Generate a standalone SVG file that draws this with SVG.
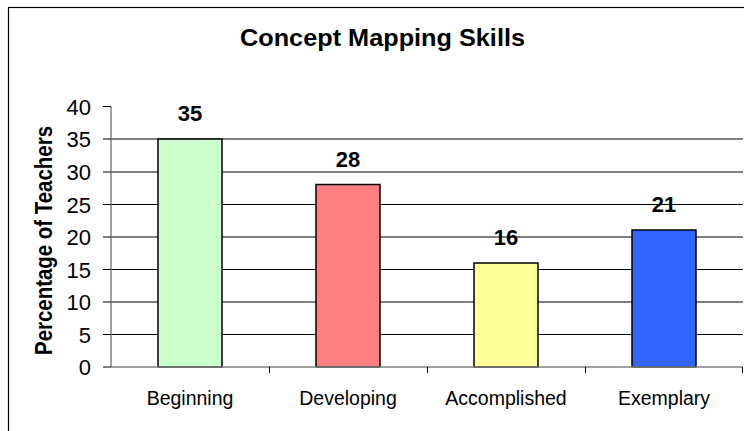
<svg xmlns="http://www.w3.org/2000/svg" width="744" height="431" viewBox="0 0 744 431">
<style>
.grid{stroke:#000;stroke-width:1}
.axis{stroke:#808080;stroke-width:1.5;fill:none}
.tick{stroke:#000;stroke-width:1}
.bar{stroke:#000;stroke-width:1.5}
.num{font-family:"Liberation Sans",Arial,sans-serif;font-size:22px;fill:#000;text-anchor:end}
.cat{font-family:"Liberation Sans",Arial,sans-serif;font-size:19.5px;fill:#000;text-anchor:middle}
.val{font-family:"Liberation Sans",Arial,sans-serif;font-size:22px;font-weight:bold;fill:#000;text-anchor:middle}
.title{font-family:"Liberation Sans",Arial,sans-serif;font-size:24px;font-weight:bold;fill:#000}
</style>
<rect x="0" y="0" width="744" height="431" fill="#fff"/>
<rect x="8.5" y="7.5" width="750" height="440" fill="none" stroke="#000" stroke-width="1.2"/>
<text id="title" class="title" x="240" y="45.5" textLength="285" lengthAdjust="spacingAndGlyphs">Concept Mapping Skills</text>
<text id="ytitle" class="title" transform="translate(52,355) rotate(-90)" x="0" y="0" font-size="21" textLength="229" lengthAdjust="spacingAndGlyphs">Percentage of Teachers</text>
<g id="gridlines">
<line class="grid" x1="111" y1="334.5" x2="743" y2="334.5"/>
<line class="grid" x1="111" y1="302" x2="743" y2="302"/>
<line class="grid" x1="111" y1="269.5" x2="743" y2="269.5"/>
<line class="grid" x1="111" y1="237" x2="743" y2="237"/>
<line class="grid" x1="111" y1="204.5" x2="743" y2="204.5"/>
<line class="grid" x1="111" y1="172" x2="743" y2="172"/>
<line class="grid" x1="111" y1="139" x2="743" y2="139"/>
</g>
<g id="yaxis">
<line class="axis" x1="111" y1="106.5" x2="111" y2="367"/>
<g class="tick">
<line x1="103" y1="106.5" x2="111" y2="106.5"/>
<line x1="103" y1="139" x2="111" y2="139"/>
<line x1="103" y1="172" x2="111" y2="172"/>
<line x1="103" y1="204.5" x2="111" y2="204.5"/>
<line x1="103" y1="237" x2="111" y2="237"/>
<line x1="103" y1="269.5" x2="111" y2="269.5"/>
<line x1="103" y1="302" x2="111" y2="302"/>
<line x1="103" y1="334.5" x2="111" y2="334.5"/>
<line x1="103" y1="367" x2="111" y2="367"/>
</g>
<text class="num" x="91" y="114.5">40</text>
<text class="num" x="91" y="147">35</text>
<text class="num" x="91" y="180">30</text>
<text class="num" x="91" y="212.5">25</text>
<text class="num" x="91" y="245">20</text>
<text class="num" x="91" y="277.5">15</text>
<text class="num" x="91" y="310">10</text>
<text class="num" x="91" y="342.5">5</text>
<text class="num" x="91" y="375">0</text>
</g>
<g id="bar-beginning">
<rect class="bar" x="158" y="139" width="64" height="228" fill="#CCFFCC"/>
<text class="val" x="190" y="121">35</text>
<text class="cat" x="190" y="405">Beginning</text>
</g>
<g id="bar-developing">
<rect class="bar" x="316" y="184.5" width="64" height="182.5" fill="#FF8080"/>
<text class="val" x="348" y="166.5">28</text>
<text class="cat" x="348" y="405">Developing</text>
</g>
<g id="bar-accomplished">
<rect class="bar" x="474" y="263" width="64" height="104" fill="#FFFF99"/>
<text class="val" x="506" y="245">16</text>
<text class="cat" x="506" y="405">Accomplished</text>
</g>
<g id="bar-exemplary">
<rect class="bar" x="632" y="230" width="64" height="137" fill="#3366FF"/>
<text class="val" x="664" y="212">21</text>
<text class="cat" x="664" y="405">Exemplary</text>
</g>
<g id="xaxis">
<line class="axis" x1="111" y1="367" x2="743" y2="367"/>
<g class="tick">
<line x1="269.5" y1="367" x2="269.5" y2="373"/>
<line x1="427.5" y1="367" x2="427.5" y2="373"/>
<line x1="585.5" y1="367" x2="585.5" y2="373"/>
<line x1="742.5" y1="367" x2="742.5" y2="373"/>
</g>
</g>
</svg>
